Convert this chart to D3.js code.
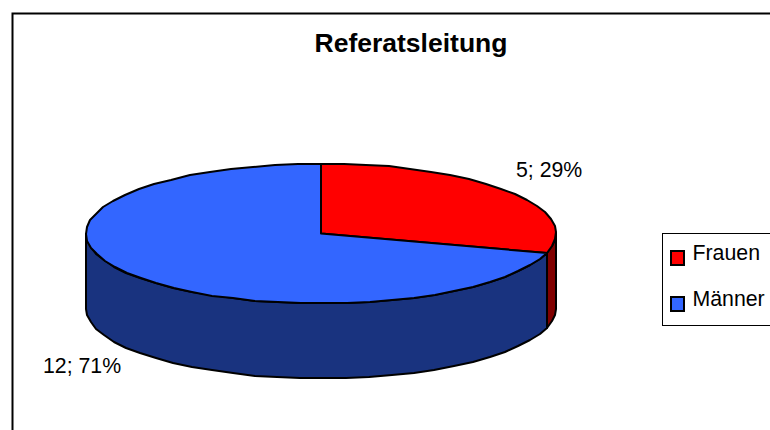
<!DOCTYPE html>
<html><head><meta charset="utf-8"><script src="https://cdn.jsdelivr.net/npm/d3@7"></script>
<style>html,body{margin:0;padding:0;background:#fff}svg{display:block}text{font-family:"Liberation Sans",Arial,sans-serif;fill:#000}</style></head>
<body><svg id="c" width="770" height="430"></svg>
<script>
const categories = ["Frauen", "Männer"];
const values = [5, 12];
const labels = ["5; 29%", "12; 71%"];
const topColors = ["#ff0000", "#3366ff"];
const sideColors = ["#800000", "#19337f"];
const chartTitle = "Referatsleitung";

const svg = d3.select("#c");
const cx = 321, cy = 233.5, rx = 235, ry = 70, depth = 75;
const sx = d3.scaleLinear().domain([-1, 1]).range([cx - rx, cx + rx]);
const sy = d3.scaleLinear().domain([-1, 1]).range([cy - ry, cy + ry]);
const pt = (a, dy = 0) => [sx(Math.sin(a)), sy(-Math.cos(a)) + dy];
const line = d3.line();
const arcPts = (a0, a1, dy = 0) => {
  const n = Math.max(2, Math.ceil(Math.abs(a1 - a0) * 10));
  return d3.range(n + 1).map(i => pt(a0 + (a1 - a0) * i / n, dy)).map(p => [Math.round(p[0]), Math.round(p[1])]);
};

// frame
svg.append("path").attr("d", "M12.5,430V13.5H770").attr("fill", "none").attr("stroke", "#000").attr("stroke-width", 2);
svg.append("text").attr("x", 411).attr("y", 52).attr("text-anchor", "middle")
  .attr("font-size", 26.5).attr("font-weight", "bold").text(chartTitle);

const arcs = d3.pie().sort(null)(values);
const g = svg.append("g").attr("stroke", "#000").attr("stroke-width", 2).attr("stroke-linejoin", "round");

// visible side walls: front half of the ellipse (angles from 90deg to 270deg)
arcs.forEach((d, i) => {
  const a0 = Math.max(d.startAngle, Math.PI / 2), a1 = Math.min(d.endAngle, Math.PI * 1.5);
  if (a1 <= a0) return;
  const upper = arcPts(a0, a1), lower = arcPts(a1, a0, depth);
  g.append("path").attr("d", line(upper.concat(lower)) + "Z").attr("fill", sideColors[i]);
});
// top faces
arcs.forEach((d, i) => {
  const p = [[cx, cy]].concat(arcPts(d.startAngle, d.endAngle));
  g.append("path").attr("d", line(p) + "Z").attr("fill", topColors[i]);
});

// data labels
svg.append("text").attr("x", 516).attr("y", 176.5).attr("font-size", 21.3).text(labels[0]);
svg.append("text").attr("x", 43).attr("y", 372.5).attr("font-size", 21.3).text(labels[1]);

// legend
svg.append("rect").attr("x", 662.5).attr("y", 233.5).attr("width", 120).attr("height", 92)
  .attr("fill", "#fff").attr("stroke", "#000").attr("stroke-width", 1);
categories.forEach((c, i) => {
  const y = 258 + i * 46;
  svg.append("rect").attr("x", 671).attr("y", y - 7).attr("width", 13).attr("height", 14)
    .attr("fill", topColors[i]).attr("stroke", "#000").attr("stroke-width", 2);
  svg.append("text").attr("x", 692.5).attr("y", y + 2).attr("font-size", 21.3).text(c);
});
</script></body></html>
